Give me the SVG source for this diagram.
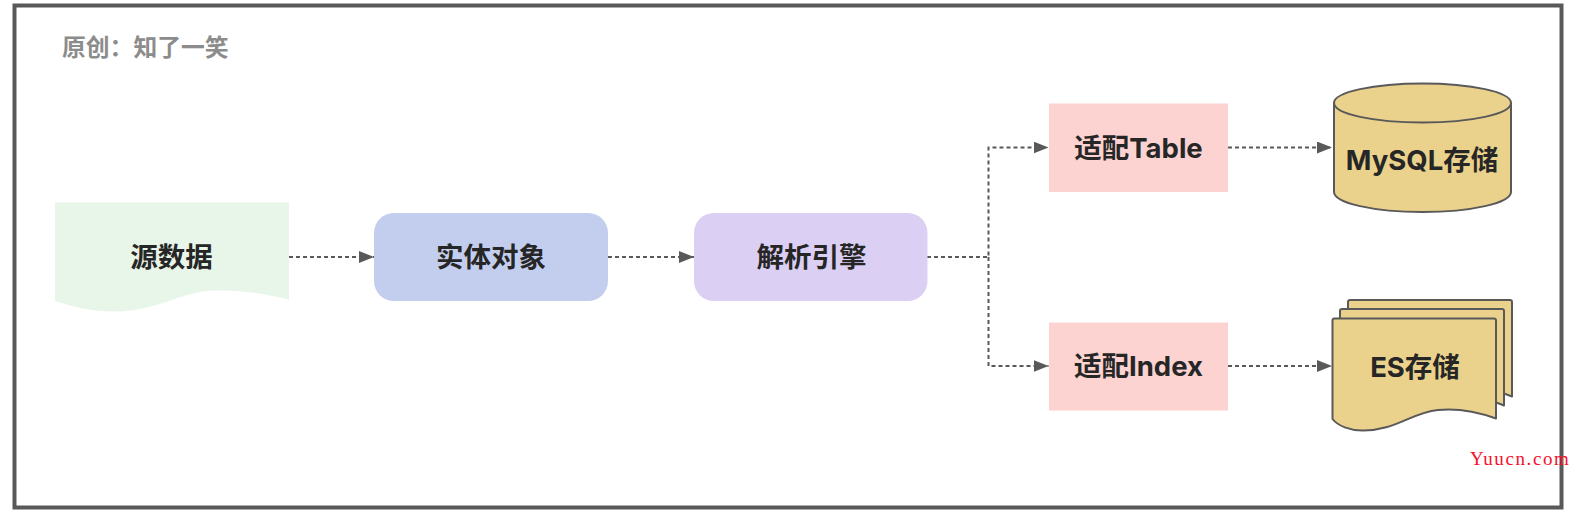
<svg xmlns="http://www.w3.org/2000/svg" width="1580" height="514" viewBox="0 0 1580 514">
<style>
.t{font-family:"Inter","Noto Sans CJK SC",sans-serif;font-weight:700;font-size:27.500px;fill:#262626;text-anchor:middle}
.c{fill:none;stroke:#595959;stroke-width:2;stroke-dasharray:4 3}
.s{fill:#ead28c;stroke:#595959;stroke-width:2;stroke-linejoin:round}
</style>
<defs><marker id="a" markerUnits="userSpaceOnUse" markerWidth="16" markerHeight="14" refX="15" refY="6" orient="auto"><path d="M0 0L15 6L0 12Z" fill="#595959"/></marker></defs>
<rect width="1580" height="514" fill="#fff"/>
<rect id="frame" x="14.500" y="5.500" width="1547" height="502" fill="none" stroke="#595959" stroke-width="4"/>
<text id="author" x="62" y="56" style="font-family:'Noto Sans CJK SC',sans-serif;font-weight:700;font-size:23.800px;fill:#8c8c8c">原创：知了一笑</text>
<g id="connectors">
<path class="c" marker-end="url(#a)" d="M289 257H374"/>
<path class="c" marker-end="url(#a)" d="M608 257H694"/>
<path class="c" marker-end="url(#a)" d="M927 257H988.500V147.500H1048.500"/>
<path class="c" marker-end="url(#a)" d="M988.500 257V366H1048.500"/>
<path class="c" marker-end="url(#a)" d="M1228 147.500H1332"/>
<path class="c" marker-end="url(#a)" d="M1228 366H1332"/>
</g>
<g id="source"><path d="M55 202.500H289V299.500C265 294 245 290 215 290.500C180 291 160 311 115 311.500C90 311.500 75 307 55 301Z" fill="#e8f5e9"/><text class="t" x="171.500" y="266.500">源数据</text></g>
<g id="entity"><rect x="374" y="213" width="234" height="88" rx="20" fill="#c3ceef"/><text class="t" x="491" y="266.500">实体对象</text></g>
<g id="engine"><rect x="694" y="213" width="233.500" height="88" rx="20" fill="#dbcff3"/><text class="t" x="811.500" y="266.500">解析引擎</text></g>
<g id="table"><rect x="1049" y="103.500" width="179" height="88.500" fill="#fcd3d1"/><text class="t" x="1138.500" y="157.500">适配Table</text></g>
<g id="index"><rect x="1049" y="322.500" width="179" height="88" fill="#fcd3d1"/><text class="t" x="1138.500" y="376">适配Index</text></g>
<g id="mysql"><path class="s" d="M1334 103C1334 92 1374 83.500 1422.500 83.500S1511 92 1511 103V192C1511 203 1471 212 1422.500 212S1334 203 1334 192Z"/><path class="s" style="fill:none" d="M1334 103C1334 114 1374 122.500 1422.500 122.500S1511 114 1511 103"/><text class="t" x="1422" y="170">MySQL存储</text></g>
<g id="es">
<path class="s" d="M1348 320V302a2 2 0 0 1 2-2H1510a2 2 0 0 1 2 2V396.500L1500 392V320Z"/>
<path class="s" d="M1340 320V311a2 2 0 0 1 2-2H1502a2 2 0 0 1 2 2V405.500L1490 400V320Z"/>
<path class="s" d="M1332.500 320.500a2 2 0 0 1 2-2H1494a2 2 0 0 1 2 2V418.500C1478 412 1458 408 1438 410C1410 413 1395 431 1362 430.500C1350 430.500 1338 426 1332.500 419Z"/>
<text class="t" x="1415" y="376.500">ES存储</text></g>
<text id="watermark" x="1470" y="465" style="font-family:'Liberation Serif',serif;font-size:19px;letter-spacing:1.600px;fill:#f5102c">Yuucn.com</text>
</svg>
